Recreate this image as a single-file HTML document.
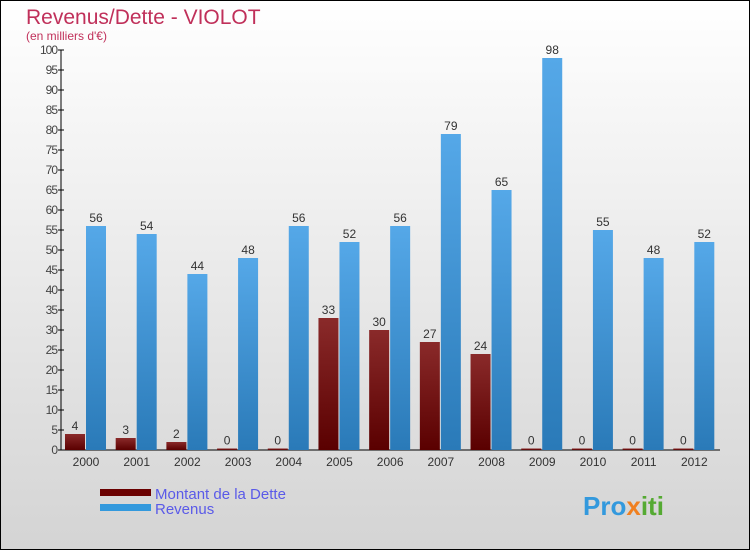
<!DOCTYPE html>
<html><head><meta charset="utf-8"><style>
body{margin:0}
#c{width:750px;height:550px;position:relative;font-family:"Liberation Sans",sans-serif}
</style></head><body>
<div id="c">
<svg width="750" height="550" id="s">
<defs>
<linearGradient id="bg" x1="0" y1="0" x2="0" y2="1"><stop offset="0" stop-color="#ffffff"/><stop offset="1" stop-color="#d4d4d4"/></linearGradient>
<linearGradient id="gd" x1="0" y1="0" x2="0" y2="1"><stop offset="0" stop-color="#8a2a2a"/><stop offset="1" stop-color="#5a0000"/></linearGradient>
<linearGradient id="gr" x1="0" y1="0" x2="0" y2="1"><stop offset="0" stop-color="#55a8e8"/><stop offset="1" stop-color="#2a7ab8"/></linearGradient>
</defs>
<rect x="0.5" y="0.5" width="749" height="549" fill="url(#bg)" stroke="#000"/>
<text x="26" y="24" font-size="21" fill="#c0305a">Revenus/Dette - VIOLOT</text>
<text x="26" y="40" font-size="12" fill="#c0305a">(en milliers d'€)</text>
<g id="ax"></g><g id="bars"></g>
<g>
<rect x="100" y="489" width="51" height="7" fill="#6a0000"/>
<text x="155" y="499" font-size="15" fill="#5a5ae8">Montant de la Dette</text>
<rect x="100" y="504" width="51" height="7" fill="#3399dd"/>
<text x="155" y="514" font-size="15" fill="#5a5ae8">Revenus</text>
</g>
<text x="583" y="515" font-size="26" font-weight="bold" fill="#3399dd">Pro<tspan fill="#f08020">x</tspan><tspan fill="#55aa33">iti</tspan></text>
</svg></div>
<script>
const years=["2000","2001","2002","2003","2004","2005","2006","2007","2008","2009","2010","2011","2012"];
const dette=[4,3,2,0,0,33,30,27,24,0,0,0,0];
const revenus=[56,54,44,48,56,52,56,79,65,98,55,48,52];
const yTicks=[0,5,10,15,20,25,30,35,40,45,50,55,60,65,70,75,80,85,90,95,100];
const NS="http://www.w3.org/2000/svg";
const x0=61,x1=720,y0=450,yTop=50,gw=(x1-x0)/years.length;
const y=v=>y0-(v/100)*(y0-yTop);
function mk(t,a,p){const e=document.createElementNS(NS,t);for(const k in a)e.setAttribute(k,a[k]);p.appendChild(e);return e;}
const ax=document.getElementById('ax'),bars=document.getElementById('bars');
const yl=mk('line',{x1:x0,y1:yTop,x2:x0,y2:y0,stroke:'#000'},ax);


const xl=mk('line',{x1:x0,y1:y0,x2:x1,y2:y0,stroke:'#000'},ax);


yTicks.forEach(v=>{
 mk('line',{x1:x0-3,x2:x0+3,y1:y(v),y2:y(v),stroke:'#000'},ax);
 const t=mk('text',{x:x0-4,y:y(v)+4,'font-size':12,fill:'#444','text-anchor':'end','letter-spacing':'-1'},ax);
 t.textContent=v;
 
 
});
years.forEach((yr,i)=>{
 const gx=x0+i*gw+4;
 const t=mk('text',{x:gx+21,y:466,'font-size':12,fill:'#333','text-anchor':'middle'},ax);
 t.textContent=yr;
 
 
 [[dette[i],'url(#gd)',gx,'bar-dette'],[revenus[i],'url(#gr)',gx+21,'bar-revenus']].forEach(([v,f,bx,n])=>{
  const h=Math.max(y0-y(v),1.5);
  const r=mk('rect',{x:bx,y:y0-h,width:20,height:h,fill:f},bars);
  
  
  const l=mk('text',{x:bx+10,y:y0-h-4,'font-size':12,fill:'#333','text-anchor':'middle'},bars);
  l.textContent=v;
  
  
 });
});
</script>
</body></html>
